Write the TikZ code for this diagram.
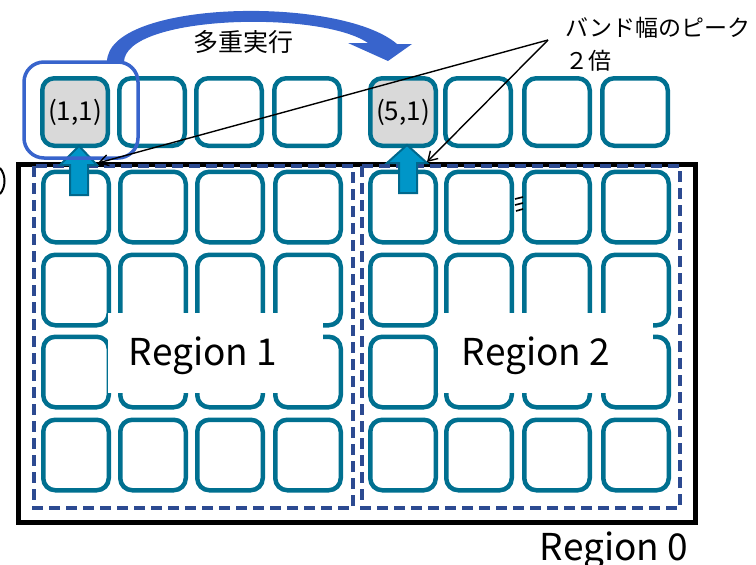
\documentclass[tikz,border=0pt]{standalone}
\usepackage{fontspec}
\setmainfont{Noto Sans CJK JP}
\usetikzlibrary{arrows.meta}
\definecolor{tileC}{RGB}{0,112,144}
\definecolor{grayF}{RGB}{217,217,217}
\definecolor{dashC}{RGB}{44,74,145}
\definecolor{blueC}{RGB}{56,100,204}
\definecolor{upF}{RGB}{0,150,200}
\definecolor{upL}{RGB}{0,104,140}
\tikzset{
  tile/.style={draw=tileC,line width=4.5pt,fill=white,rounded corners=12pt,inner sep=0pt,minimum width=65.5pt,minimum height=70.5pt,font=\fontsize{26}{30}\selectfont},
  toptile/.style={tile,minimum height=67.5pt},
  graytile/.style={toptile,fill=grayF},
  regdash/.style={draw=dashC,line width=4.5pt,dash pattern=on 11pt off 6pt},
  uparrow/.style={fill=upF,draw=upL,line width=2pt},
  pointer/.style={draw=black,line width=1.4pt,-{Straight Barb[length=9pt,width=11pt]}},
  regtext/.style={font=\fontsize{37}{42}\selectfont,inner sep=0pt,anchor=base},
  jtext/.style={font=\fontsize{25}{30}\selectfont,inner sep=0pt}
}
\begin{document}
\begin{tikzpicture}[x=1pt,y=-1pt]
\useasboundingbox (0,0) rectangle (756,565);
% outer region 0
\draw[line width=5pt] (18,164) rectangle (695,522);
% region dashed boxes
\draw[regdash] (34,166) rectangle (353,508);
\draw[regdash] (362,166) rectangle (680,508);
% grid tiles
\foreach \x [count=\i] in {76,153,230,308,403,479,557,636}{
  \foreach \y [count=\j] in {207,290,372,455}{
    \node[tile] (g\i-\j) at (\x,\y) {};
  }
}
% top row tiles
\node[graytile] (t1) at (75,112) {(1,1)};
\node[toptile] (t2) at (152,112) {};
\node[toptile] (t3) at (229,112) {};
\node[toptile] (t4) at (307,112) {};
\node[graytile] (t5) at (403,112) {(5,1)};
\node[toptile] (t6) at (478,112) {};
\node[toptile] (t7) at (557,112) {};
\node[toptile] (t8) at (635,112) {};
% region labels
\fill[white] (108,313) rectangle (323,393);
\fill[white] (438,313) rectangle (653,393);
\node[regtext] (r1) at (203,365) {Region 1};
\node[regtext] (r2) at (536,365) {Region 2};
\node[regtext] (r0) at (614,560) {Region 0};
% partial glyph fragments
\draw[line width=2pt] (0,168) .. controls (6,175) and (6,187) .. (0,194);
\draw[line width=1.6pt] (515,199) -- (523,197);
\draw[line width=1.6pt] (515,205) -- (523,203);
\draw[line width=1.6pt] (516,211) -- (523,209);
% up arrows
\draw[uparrow] (70,195) -- (70,165) -- (60,165) -- (79,146) -- (97,165) -- (88,165) -- (88,195) -- cycle;
\draw[uparrow] (399,193) -- (399,163) -- (387,163) -- (407,145) -- (427,163) -- (417,163) -- (417,193) -- cycle;
% blue selection rect
\draw[blueC,line width=3.5pt,rounded corners=20pt] (24,62) rectangle (138,158);
% curved arrow
\fill[blueC] (107,62) .. controls (107,0) and (340,-5) .. (397,44)
  -- (412,44) -- (388,61) -- (348,43) -- (368,43)
  .. controls (320,10) and (125,15) .. (124,62) -- cycle;
\node[jtext] (mj) at (243,42) {多重実行};
% annotation
\node[jtext,anchor=west,align=left,font=\fontsize{23}{33}\selectfont] (note) at (565,44) {バンド幅のピーク\\２倍};
\coordinate (src) at (548,40);
\coordinate (tipA) at (98,163);
\coordinate (tipB) at (427,162);
\draw[pointer] (src) -- (tipA);
\draw[pointer] (src) -- (tipB);
\end{tikzpicture}
\end{document}
